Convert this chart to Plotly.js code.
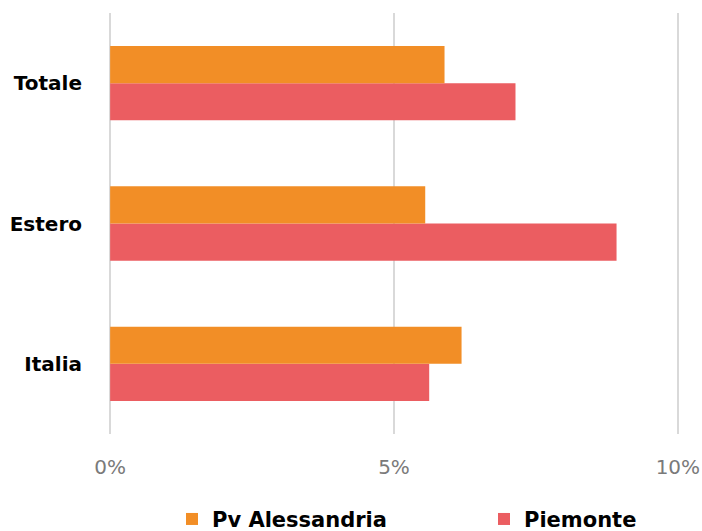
<!DOCTYPE html>
<html>
<head>
<meta charset="utf-8">
<script src="https://cdn.plot.ly/plotly-3.0.1.min.js"></script>
<style>
  html, body { margin: 0; padding: 0; background: #ffffff; }
  #chart { width: 702px; height: 531px; }
</style>
</head>
<body>
<div id="chart"></div>
<script>
// categorie dal basso verso l'alto
const categories = ['Italia', 'Estero', 'Totale'];
const pvAlessandria = [6.19, 5.55, 5.89];
const piemonte = [5.62, 8.92, 7.14];
const xTicks = [0, 5, 10];
const xTickLabels = ['0%', '5%', '10%'];

const COLORS = { orange: '#F28E26', red: '#EB5D61' };

// Piemonte first so it is drawn below Pv Alessandria in each group
const traceRed = {
    y: categories,
    x: piemonte,
    type: 'bar',
    orientation: 'h',
    name: 'Piemonte',
    legend: 'legend2',
    marker: { color: COLORS.red },
    hoverinfo: 'skip',
};

const traceOrange = {
    y: categories,
    x: pvAlessandria,
    type: 'bar',
    orientation: 'h',
    name: 'Pv Alessandria',
    legend: 'legend',
    marker: { color: COLORS.orange },
    hoverinfo: 'skip',
};

const legendFont = { family: 'DejaVu Sans', size: 21, color: '#000000', weight: 'bold' };

// one legend per series, so each entry can sit where the reference has it
const legendBase = {
    orientation: 'h',
    xref: 'container',
    yref: 'container',
    xanchor: 'left',
    y: 0.022,
    yanchor: 'middle',
    itemwidth: 30,
    font: legendFont,
};

const layout = {
    width: 702,
    height: 531,
    margin: { t: 13, r: 23, l: 109, b: 97 },
    barmode: 'group',
    bargap: 0.47,
    bargroupgap: 0,
    showlegend: true,
    xaxis: {
        range: [-0.02, 10.02],
        tickvals: xTicks,
        ticktext: xTickLabels,
        showgrid: true,
        gridcolor: '#d9d9d9',
        gridwidth: 2,
        zeroline: false,
        showline: false,
        ticks: 'outside',
        ticklen: 15,
        tickcolor: 'rgba(0,0,0,0)',
        tickfont: { family: 'DejaVu Sans', size: 20, color: '#7a7a7a' },
        automargin: false,
        fixedrange: true,
    },
    yaxis: {
        showgrid: false,
        zeroline: false,
        showline: false,
        ticks: 'outside',
        ticklen: 22,
        tickcolor: 'rgba(0,0,0,0)',
        tickfont: { family: 'DejaVu Sans', size: 20, color: '#000000', weight: 'bold' },
        automargin: false,
        fixedrange: true,
    },
    legend: Object.assign({}, legendBase, { x: 172 / 702 }),
    legend2: Object.assign({}, legendBase, { x: 484 / 702 }),
    plot_bgcolor: '#ffffff',
    paper_bgcolor: '#ffffff',
};

Plotly.newPlot('chart', [traceRed, traceOrange], layout, {
    displayModeBar: false,
    staticPlot: true,
});
</script>
</body>
</html>
